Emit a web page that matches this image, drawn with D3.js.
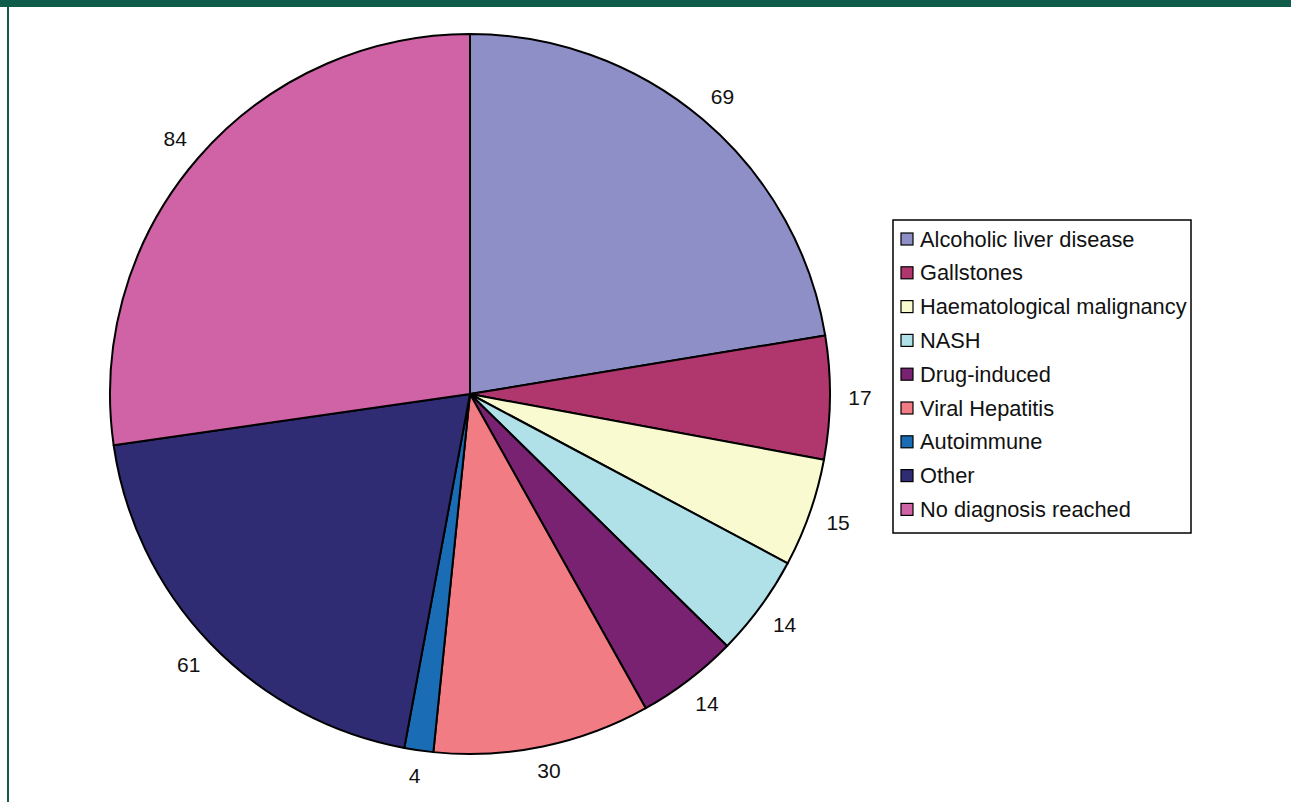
<!DOCTYPE html>
<html>
<head>
<meta charset="utf-8">
<script src="https://cdn.jsdelivr.net/npm/d3@7"></script>
<style>
  body { margin: 0; background: #fff; }
  svg { display: block; font-family: "Liberation Sans", Arial, sans-serif; }
</style>
</head>
<body>
<div id="chart"></div>
<script>
var categories = ["Alcoholic liver disease", "Gallstones", "Haematological malignancy", "NASH",
                  "Drug-induced", "Viral Hepatitis", "Autoimmune", "Other", "No diagnosis reached"]
var counts = [69, 17, 15, 14, 14, 30, 4, 61, 84]
var colours = ["#8f8fc8", "#b0366e", "#fafad0", "#b0e0e8", "#7a2272", "#f27c84", "#1a6cb4", "#302c74", "#d062a6"]

var width = 1291, height = 802
var cx = 470, cy = 394, radius = 360

var svg = d3.select("#chart")
    .append("svg")
      .attr("width", width)
      .attr("height", height)

// green frame
svg.append("rect").attr("x", 0).attr("y", 0).attr("width", width).attr("height", 7).attr("fill", "#0f5c4a")
svg.append("rect").attr("x", 7).attr("y", 0).attr("width", 2).attr("height", height).attr("fill", "#0f5c4a")

var data = categories.map(function(c, i) { return {name: c, value: counts[i], colour: colours[i]} })

var pie = d3.pie()
    .sort(null)
    .value(function(d) { return d.value })

var arc = d3.arc().innerRadius(0).outerRadius(radius)
var labelArc = d3.arc().innerRadius(390).outerRadius(390)

var g = svg.append("g").attr("transform", "translate(" + cx + "," + cy + ")")

g.selectAll("path")
    .data(pie(data))
    .enter()
    .append("path")
      .attr("d", arc)
      .attr("fill", function(d) { return d.data.colour })
      .attr("stroke", "#000")
      .attr("stroke-width", 2)
      .attr("stroke-linejoin", "round")

g.selectAll("text.lbl")
    .data(pie(data))
    .enter()
    .append("text")
      .attr("class", "lbl")
      .attr("transform", function(d) {
          var p = labelArc.centroid(d)
          // bottom labels sit a bit higher
          if (p[1] > 360) p[1] -= 5
          return "translate(" + p + ")"
      })
      .attr("text-anchor", "middle")
      .attr("dominant-baseline", "central")
      .attr("font-size", 21)
      .attr("fill", "#111")
      .text(function(d) { return d.data.value })

// legend
var legend = svg.append("g").attr("transform", "translate(893,220)")
legend.append("rect")
    .attr("width", 298)
    .attr("height", 313)
    .attr("fill", "#fff")
    .attr("stroke", "#000")
    .attr("stroke-width", 1.5)

var rows = legend.selectAll("g.row")
    .data(data)
    .enter()
    .append("g")
      .attr("class", "row")
      .attr("transform", function(d, i) { return "translate(0," + (19 + i * 33.8) + ")" })

rows.append("rect")
    .attr("x", 8).attr("y", -6)
    .attr("width", 12).attr("height", 12)
    .attr("fill", function(d) { return d.colour })
    .attr("stroke", "#000")
    .attr("stroke-width", 1.2)

rows.append("text")
    .attr("x", 27)
    .attr("dominant-baseline", "central")
    .attr("font-size", 21.8)
    .attr("fill", "#111")
    .text(function(d) { return d.name })
</script>
</body>
</html>
